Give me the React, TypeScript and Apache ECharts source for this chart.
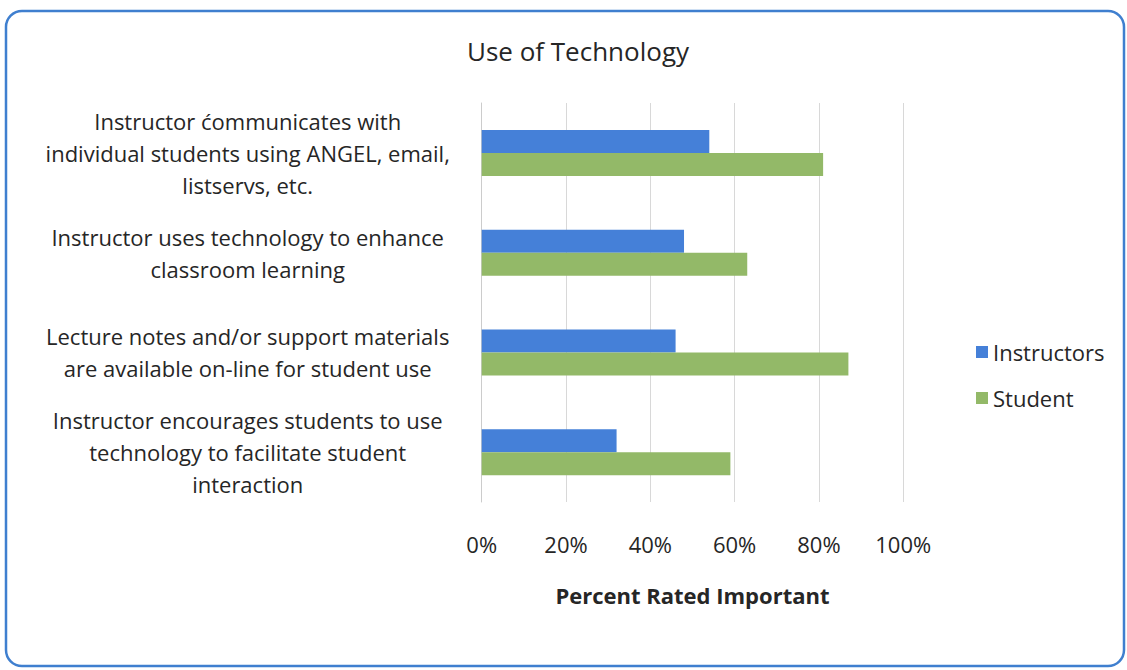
import React, { useEffect, useRef } from "react";
import * as echarts from "echarts";

const categories = [
  "Instructor ćommunicates with\nindividual students using ANGEL, email,\nlistservs, etc.",
  "Instructor uses technology to enhance\nclassroom learning",
  "Lecture notes and/or support materials\nare available on-line for student use",
  "Instructor encourages students to use\ntechnology to facilitate student\ninteraction",
];
const instructors = [54, 48, 46, 32];
const students = [81, 63, 87, 59];
const xTicks = [0, 20, 40, 60, 80, 100];

const FONT = "'Open Sans', sans-serif";
const TEXT = "#262626";

export default function App() {
  const ref = useRef<HTMLDivElement>(null);
  useEffect(() => {
    document.body.style.margin = "0";
    const chart = echarts.init(ref.current!, null, { renderer: "svg" });
    chart.setOption({
      animation: false,
      backgroundColor: "#ffffff",
      textStyle: { fontFamily: FONT },
      title: {
        text: "Use of Technology",
        left: 573,
        textAlign: "center",
        top: 33,
        textStyle: { fontFamily: FONT, fontSize: 26, fontWeight: "normal", color: TEXT },
      },
      graphic: [
        {
          type: "rect",
          shape: { x: 6, y: 11, width: 1118, height: 655, r: 16 },
          style: { fill: "none", stroke: "#3f7fcf", lineWidth: 2.5 },
          silent: true,
        },
      ],
      legend: {
        orient: "vertical",
        left: 971,
        top: 336,
        itemWidth: 12,
        itemHeight: 12,
        itemGap: 24,
        icon: "rect",
        textStyle: { fontFamily: FONT, fontSize: 22, color: TEXT },
        data: ["Instructors", "Student"],
      },
      grid: { left: 481.7, right: 223.8, top: 103, bottom: 168, containLabel: false },
      xAxis: {
        type: "value",
        min: 0,
        max: 100,
        interval: 20,
        name: "Percent Rated Important",
        nameLocation: "middle",
        nameGap: 82,
        nameTextStyle: { fontFamily: FONT, fontSize: 22, fontWeight: "bold", color: TEXT },
        axisLine: { show: false },
        axisTick: { show: false },
        axisLabel: {
          margin: 31,
          fontFamily: FONT,
          fontSize: 22,
          color: TEXT,
          formatter: (v: number) => (xTicks.includes(v) ? v + "%" : ""),
        },
        splitLine: { show: true, lineStyle: { color: "#d8d8d8", width: 1 } },
      },
      yAxis: {
        type: "category",
        inverse: true,
        data: categories,
        axisLine: { show: true, lineStyle: { color: "#cccccc", width: 1 } },
        axisTick: { show: false },
        axisLabel: {
          margin: 234,
          align: "center",
          fontFamily: FONT,
          fontSize: 22,
          lineHeight: 32,
          color: TEXT,
        },
      },
      series: [
        {
          name: "Instructors",
          type: "bar",
          data: instructors,
          barWidth: 23,
          barGap: "0%",
          itemStyle: { color: "#4580d8" },
        },
        {
          name: "Student",
          type: "bar",
          data: students,
          barWidth: 23,
          barGap: "0%",
          itemStyle: { color: "#93b968" },
        },
      ],
    });
    return () => chart.dispose();
  }, []);
  return <div ref={ref} style={{ width: 1127, height: 670 }} />;
}
